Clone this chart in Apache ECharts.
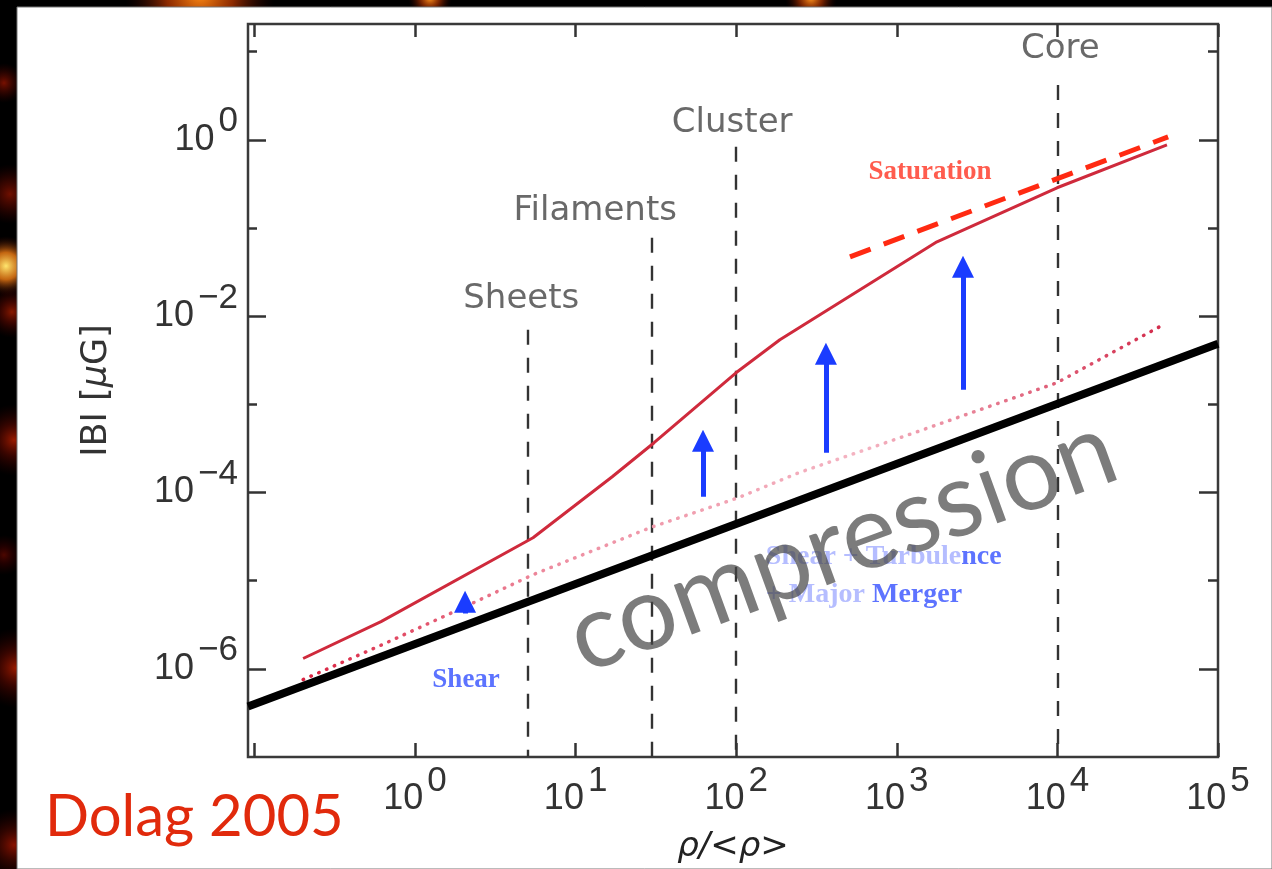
<!DOCTYPE html>
<html><head><meta charset="utf-8">
<script src="https://cdn.jsdelivr.net/npm/echarts@6/dist/echarts.min.js"></script>
<style>html,body{margin:0;padding:0;background:#000;}#c{width:1272px;height:869px;}</style>
</head><body><div id="c"></div>
<script>
// ---------- data ----------
const compressionRho = [0.0912, 1e5];
const compressionB   = [3.73e-7, 4.86e-3];
const modelRho = [0.201, 0.614, 5.43, 16.9, 30.8, 99.7, 187, 1778, 9950, 48100];
const modelB   = [1.31e-6, 3.43e-6, 3.07e-5, 1.51e-4, 3.67e-4, 2.28e-3, 5.40e-3, 0.0698, 0.286, 0.877];
const dottedRho = [0.201, 0.605, 2.05, 5.43, 29.1, 103, 246, 1047, 9950, 45500];
const dottedB   = [7.55e-7, 1.83e-6, 5.07e-6, 1.17e-5, 3.99e-5, 8.73e-5, 1.68e-4, 4.18e-4, 1.76e-3, 7.98e-3];
const saturationRho = [511, 48900];
const saturationB   = [0.0471, 1.08];
const arrowRho   = [2.05, 62.1, 362, 2583];
const arrowFromB = [4.23e-6, 8.96e-5, 2.83e-4, 1.46e-3];
const arrowToB   = [5.78e-6, 3.87e-4, 3.75e-3, 0.0363];
const regionNames = ['Sheets', 'Filaments', 'Cluster', 'Core'];
const regionRho   = [5, 30, 100, 1e4];
const regionTopB  = [7.0e-3, 0.0774, 0.833, 4.2];
const annotationTexts = ['Saturation', 'Shear', 'Shear + Turbulence', '+ Major Merger', 'compression'];
const annotationRho   = [1610, 2.08, 153, 153, 456];
const annotationB     = [0.434, 7.55e-7, 1.87e-5, 6.93e-6, 2.6e-5];
const xTickValues  = [0.1, 1, 10, 100, 1e3, 1e4, 1e5];
const xLabelValues = [1, 10, 100, 1e3, 1e4, 1e5];
const yTickValues  = [1e-6, 1e-5, 1e-4, 1e-3, 1e-2, 1e-1, 1, 10];
const yLabelValues = [1e-6, 1e-4, 1e-2, 1];
const xRange = [0.0912, 1e5];
const yRange = [1e-7, 20.6];
const xTitle = 'ρ/<ρ>';
const caption = 'Dolag 2005';

// ---------- helpers ----------
const zip = (a, b) => a.map((v, i) => [v, b[i]]);
const TICK = '#333';
const expFmt = v => {
  const e = Math.round(Math.log10(v));
  return '{b|10}{e|' + (e < 0 ? '\u2212' + (-e) : e) + '}';
};
const expRich = {
  b: { fontFamily: 'Liberation Sans', fontSize: 36, color: '#333', lineHeight: 36, padding: [18, 0, 18, 0] },
  e: { fontFamily: 'Liberation Sans', fontSize: 35, color: '#333', lineHeight: 36, padding: [0, 0, 36, 4] }
};
const baseLog = { type: 'log', logBase: 10, splitLine: { show: false }, axisLine: { show: false } };
const regionOffsets = [[-6, 14], [-57, 10], [-4, 7], [3, 19]];

const annStyles = [
  { fontFamily: 'Liberation Serif', fontWeight: 'bold', fontSize: 27, color: '#ff3322' },
  { fontFamily: 'Liberation Serif', fontWeight: 'bold', fontSize: 27, color: '#3350ff' },
  { fontFamily: 'Liberation Serif', fontWeight: 'bold', fontSize: 28, color: '#a3adff', align: 'left',
    formatter: '{l|Shear + Turbule}{d|nce}',
    rich: { l: { fontFamily: 'Liberation Serif', fontWeight: 'bold', fontSize: 28, color: '#a3adff' },
            d: { fontFamily: 'Liberation Serif', fontWeight: 'bold', fontSize: 28, color: '#3450ff' } } },
  { fontFamily: 'Liberation Serif', fontWeight: 'bold', fontSize: 28, color: '#a3adff', align: 'left',
    formatter: '{l|+ Major }{d|Merger}',
    rich: { l: { fontFamily: 'Liberation Serif', fontWeight: 'bold', fontSize: 28, color: '#a3adff' },
            d: { fontFamily: 'Liberation Serif', fontWeight: 'bold', fontSize: 28, color: '#3450ff' } } },
  { fontFamily: 'Lato', fontSize: 104, color: 'rgba(68,68,68,0.88)', rotate: 20 }
];

const chart = echarts.init(document.getElementById('c'), null, { renderer: 'canvas' });

const blob = (cx, cy, r, c0, c1) => ({
  type: 'circle', z: -20, silent: true,
  shape: { cx, cy, r },
  style: { fill: new echarts.graphic.RadialGradient(0.5, 0.5, 0.5, [
    { offset: 0, color: c0 }, { offset: 0.45, color: c1 }, { offset: 1, color: 'rgba(60,0,0,0)' }]) }
});

const option = {
  backgroundColor: '#000',
  animation: false,
  graphic: [
    blob(200, -6, 75, 'rgba(255,140,20,1)', 'rgba(200,60,0,0.7)'),
    blob(430, -2, 22, 'rgba(255,150,30,1)', 'rgba(200,60,0,0.6)'),
    blob(811, -2, 26, 'rgba(255,150,30,1)', 'rgba(200,60,0,0.6)'),
    blob(4, 83, 20, 'rgba(150,20,0,0.8)', 'rgba(100,10,0,0.5)'),
    blob(10, 194, 30, 'rgba(140,20,0,0.8)', 'rgba(100,10,0,0.5)'),
    blob(6, 266, 30, 'rgba(255,230,110,1)', 'rgba(230,120,20,0.85)'),
    blob(12, 312, 26, 'rgba(160,30,0,0.85)', 'rgba(110,10,0,0.5)'),
    blob(14, 440, 36, 'rgba(170,30,0,0.9)', 'rgba(110,10,0,0.5)'),
    blob(4, 555, 20, 'rgba(110,10,0,0.7)', 'rgba(80,0,0,0.4)'),
    blob(16, 668, 40, 'rgba(170,30,0,0.9)', 'rgba(110,10,0,0.5)'),
    blob(14, 845, 36, 'rgba(150,20,0,0.9)', 'rgba(100,10,0,0.5)'),
    { type: 'rect', z: -10, silent: true, shape: { x: 17, y: 7, width: 1255, height: 862 },
      style: { fill: '#fff', stroke: '#777', lineWidth: 1 } },
    { type: 'text', z: 50, silent: true, x: 45, y: 817,
      style: { text: caption, font: '58px Lato', fill: '#e12a0c', verticalAlign: 'middle', align: 'left' } }
  ],
  grid: { left: 248, right: 54, top: 24, bottom: 112, show: true, borderColor: '#3a3a3a', borderWidth: 2.5,
          backgroundColor: 'transparent', containLabel: false, outerBoundsMode: 'none' },
  xAxis: [
    Object.assign({}, baseLog, {
      min: xRange[0], max: xRange[1], position: 'bottom',
      axisTick: { inside: true, length: 14, lineStyle: { color: TICK, width: 2.5 }, customValues: xTickValues },
      axisLabel: { customValues: xLabelValues, formatter: expFmt, rich: expRich, margin: 24 },
      name: xTitle, nameLocation: 'middle', nameGap: 73, nameMoveOverlap: false,
      nameTextStyle: { fontFamily: 'DejaVu Sans', fontStyle: 'italic', fontSize: 34, color: '#222' }
    }),
    Object.assign({}, baseLog, {
      min: xRange[0], max: xRange[1], position: 'top',
      axisTick: { inside: true, length: 13, lineStyle: { color: TICK, width: 2.5 }, customValues: xTickValues },
      axisLabel: { show: false }
    })
  ],
  yAxis: [
    Object.assign({}, baseLog, {
      min: yRange[0], max: yRange[1], position: 'left',
      axisTick: { inside: true, length: 18, lineStyle: { color: TICK, width: 2.5 }, customValues: yLabelValues },
      axisLabel: { customValues: yLabelValues, formatter: expFmt, rich: expRich, margin: 10 },
      name: '{n|IBI [}{m|μ}{n|G]}', nameLocation: 'middle', nameGap: 134, nameRotate: 90, nameMoveOverlap: false,
      nameTextStyle: { rich: {
        n: { fontFamily: 'DejaVu Sans', fontSize: 35, color: '#333' },
        m: { fontFamily: 'DejaVu Sans', fontStyle: 'italic', fontSize: 35, color: '#333' } } }
    }),
    Object.assign({}, baseLog, {
      min: yRange[0], max: yRange[1], position: 'left',
      axisTick: { inside: true, length: 9, lineStyle: { color: TICK, width: 2.5 }, customValues: yTickValues },
      axisLabel: { show: false }
    }),
    Object.assign({}, baseLog, {
      min: yRange[0], max: yRange[1], position: 'right',
      axisTick: { inside: true, length: 19, lineStyle: { color: TICK, width: 2.5 }, customValues: yLabelValues },
      axisLabel: { show: false }
    }),
    Object.assign({}, baseLog, {
      min: yRange[0], max: yRange[1], position: 'right',
      axisTick: { inside: true, length: 10, lineStyle: { color: TICK, width: 2.5 }, customValues: yTickValues },
      axisLabel: { show: false }
    })
  ],
  series: [
    { name: 'regions', type: 'lines', coordinateSystem: 'cartesian2d', z: 3, silent: true,
      lineStyle: { color: '#333', width: 2.4, type: [15, 13], opacity: 1 },
      data: regionRho.map((r, i) => ({ coords: [[r, regionTopB[i]], [r, yRange[0]]] })) },
    { name: 'dotted', type: 'line', showSymbol: false, z: 4, silent: true,
      data: zip(dottedRho, dottedB),
      lineStyle: { width: 3.5, type: [0.5, 8], cap: 'round',
        color: new echarts.graphic.LinearGradient(0, 0, 1, 0, [
          { offset: 0, color: '#d9203e' }, { offset: 0.3, color: '#ee8fa2' },
          { offset: 0.65, color: '#f4b4c2' }, { offset: 1, color: '#d22a4a' }]) } },
    { name: 'compression', type: 'line', showSymbol: false, z: 5, silent: true,
      data: zip(compressionRho, compressionB), lineStyle: { width: 8, color: '#000' } },
    { name: 'model', type: 'line', showSymbol: false, z: 6, silent: true,
      data: zip(modelRho, modelB), lineStyle: { width: 3, color: '#cf2a3c' } },
    { name: 'saturation', type: 'line', showSymbol: false, z: 6, silent: true,
      data: zip(saturationRho, saturationB), lineStyle: { width: 5, color: '#ff2a12', type: [22, 14] } },
    { name: 'arrows', type: 'lines', coordinateSystem: 'cartesian2d', z: 7, silent: true,
      symbol: ['none', 'triangle'], symbolSize: [12, 22],
      lineStyle: { color: '#1a3cff', width: 5, opacity: 1 },
      data: arrowRho.map((r, i) => ({ coords: [[r, arrowFromB[i]], [r, arrowToB[i]]] })) },
    { name: 'regionLabels', type: 'scatter', symbolSize: 0, z: 8, silent: true,
      data: regionRho.map((r, i) => ({
        value: [r, regionTopB[i]], name: regionNames[i],
        label: { show: true, position: 'top', formatter: '{b}', distance: regionOffsets[i][1],
          offset: [regionOffsets[i][0], 0], fontFamily: 'DejaVu Sans', fontSize: 34, color: '#444' } })) },
    { name: 'annotations', type: 'scatter', symbolSize: 0, z: 9, silent: true,
      data: annotationRho.map((r, i) => ({
        value: [r, annotationB[i]], name: annotationTexts[i],
        label: Object.assign({ show: true, position: 'inside', formatter: '{b}' }, annStyles[i]) })) }
  ]
};
chart.setOption(option);
</script></body></html>
